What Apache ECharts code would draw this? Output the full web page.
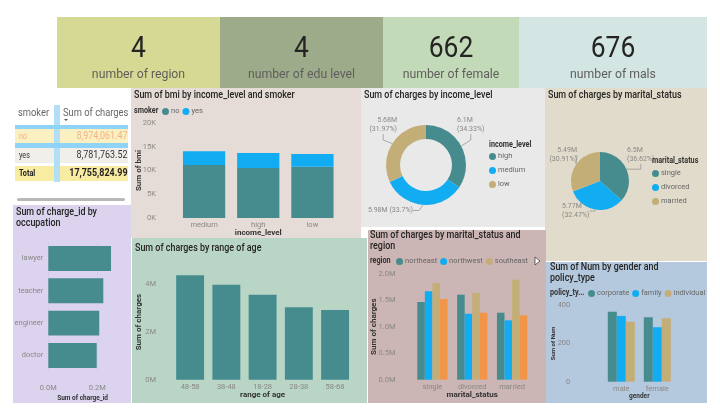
<!DOCTYPE html>
<html><head><meta charset="utf-8">
<script src="https://cdn.jsdelivr.net/npm/echarts@6/dist/echarts.min.js"></script>
<style>html,body{margin:0;padding:0;background:#fff}#c{width:720px;height:416px}</style>
</head><body><div id="c"></div>
<script>
// ---------- data ----------
var kpiValues = ['4', '4', '662', '676'];
var kpiLabels = ['number of region', 'number of edu level', 'number of female', 'number of mals'];

var smokerRows = ['no', 'yes', 'Total'];
var smokerCharges = ['8,974,061.47', '8,781,763.52', '17,755,824.99'];

var occupations = ['lawyer', 'teacher', 'engineer', 'doctor'];
var chargeIdSum = [0.256, 0.2245, 0.208, 0.1976]; // millions

var incomeLevels = ['medium', 'high', 'low'];
var bmiNo = [11160, 10530, 10800];
var bmiYes = [2880, 3150, 2670];

var incomeDonutNames = ['high', 'medium', 'low'];
var incomeDonutValues = [6.0956, 5.9837, 5.6765]; // millions

var maritalNames = ['single', 'divorced', 'married'];
var maritalValues = [6.5022, 5.7653, 5.4883]; // millions

var ageRanges = ['48-58', '38-48', '18-28', '28-38', '58-68'];
var ageCharges = [4.35, 3.96, 3.54, 3.02, 2.90]; // millions

var regionNames = ['northeast', 'northwest', 'southeast', 'southwest'];
var regionByMarital = [
  [1.466, 1.604, 1.264],
  [1.668, 1.245, 1.120],
  [1.825, 1.636, 1.887],
  [1.523, 1.264, 1.215]
];

var genders = ['male', 'female'];
var policyTypes = ['corporate', 'family', 'individual'];
var numByGender = [
  [365, 336],
  [343, 284],
  [313, 331]
];

// ---------- style ----------
var FF = "Roboto,'Noto Sans',sans-serif";
var TEAL = '#468c8e', BLUE = '#12acf2', TAN = '#c4ae78', ORANGE = '#f39549';
var LBL = '#8a8886';
function txt(x, y, s, size, color, opt) {
  opt = opt || {};
  return { type: 'text', z: 5, x: x, y: y, scaleX: opt.sx || 0.85, style: { x: 0, y: 0, text: s,
    font: (opt.weight || 'normal') + ' ' + size + 'px ' + FF, fill: color,
    textAlign: opt.align || 'left', textVerticalAlign: 'middle' } };
}
function rect(x, y, w, h, fill, z) {
  return { type: 'rect', z: z == null ? -10 : z, shape: { x: x, y: y, width: w, height: h }, style: { fill: fill } };
}

var g = [];
// panels
g.push(rect(57, 17, 163, 71, '#d6d993'));
g.push(rect(220, 17, 163, 71, '#9dab8b'));
g.push(rect(383, 17, 136, 71, '#c3dab9'));
g.push(rect(519, 17, 188, 71, '#d3e6e4'));
g.push(rect(131, 88, 230, 150, '#e5dcd8'));
g.push(rect(361, 88, 184, 139, '#e9e9e9'));
g.push(rect(545, 88, 162, 173, '#e1dbcb'));
g.push(rect(13, 205, 118, 198, '#dcd3ee'));
g.push(rect(132, 238, 235, 165, '#b8d5c5'));
g.push(rect(368, 230, 178, 173, '#cbb5b5'));
g.push(rect(546, 262, 161, 141, '#b5c9de'));

// KPI cards
var kpiCenters = [138.5, 301.5, 451, 613];
for (var i = 0; i < 4; i++) {
  g.push(txt(kpiCenters[i], 49, kpiValues[i], 30, '#252423', { align: 'center', sx: 0.88 }));
  g.push(txt(kpiCenters[i], 75, kpiLabels[i], 12.5, '#605e5c', { align: 'center', sx: 0.98 }));
}

// table
g.push(rect(54, 105, 6, 77, '#b3dff6', -5));
g.push(rect(15, 125, 113, 4, '#8fd4f6', -5));
g.push(rect(15, 129, 113, 14, '#fbf0c2', -6));
g.push(rect(15, 143, 113, 5, '#8fd4f6', -5));
g.push(rect(15, 148, 113, 15, '#f1efe9', -6));
g.push(rect(15, 166, 113, 15, '#f8eba2', -6));
g.push(txt(18, 113, 'smoker', 11, '#666'));
g.push(txt(63, 113, 'Sum of charges', 11, '#666'));
g.push({ type: 'polygon', z: 5, shape: { points: [[64, 119], [68, 119], [66, 121]] }, style: { fill: '#555' } });
var rowY = [136.5, 155.5, 173.5];
var rowCol = ['#f3b386', '#333', '#222'];
for (var r = 0; r < 3; r++) {
  var bold = r === 2 ? 'bold' : 'normal';
  g.push(txt(19, rowY[r], smokerRows[r], 8.5, rowCol[r], { weight: bold }));
  g.push(txt(127.5, rowY[r], smokerCharges[r], 10.5, rowCol[r], { align: 'right', weight: bold }));
}
g.push({ type: 'rect', z: 5, shape: { x: 17, y: 198, width: 108, height: 3, r: 1.5 }, style: { fill: '#b9b9b9' } });

// titles
var TC = '#252423', TS = 10.5, TW = '500';
g.push(txt(134, 95, 'Sum of bmi by income_level and smoker', TS, TC, { weight: TW }));
g.push(txt(364, 95, 'Sum of charges by income_level', TS, TC, { weight: TW }));
g.push(txt(548, 95, 'Sum of charges by marital_status', TS, TC, { weight: TW }));
g.push(txt(16, 212, 'Sum of charge_id by', TS, TC, { weight: TW }));
g.push(txt(16, 223, 'occupation', TS, TC, { weight: TW }));
g.push(txt(135, 248, 'Sum of charges by range of age', TS, TC, { weight: TW }));
g.push(txt(370, 235, 'Sum of charges by marital_status and', TS, TC, { weight: TW }));
g.push(txt(370, 246, 'region', TS, TC, { weight: TW }));
g.push(txt(550, 267, 'Sum of Num by gender and', TS, TC, { weight: TW }));
g.push(txt(550, 278, 'policy_type', TS, TC, { weight: TW }));
// legend titles
g.push(txt(134, 111, 'smoker', 8.5, '#333', { weight: 'bold' }));
g.push(txt(370, 261, 'region', 8.5, '#333', { weight: 'bold' }));
g.push(txt(550, 293, 'policy_ty...', 8.5, '#333', { weight: 'bold' }));
g.push(txt(489, 145, 'income_level', 8.5, '#333', { weight: 'bold' }));
g.push(txt(652, 161, 'marital_status', 8.5, '#333', { weight: 'bold' }));
g.push({ type: 'polygon', z: 5, shape: { points: [[535, 257], [540, 261], [535, 265]] }, style: { fill: '#fff', stroke: '#444', lineWidth: 0.8 } });

function legend(left, top, names, orient) {
  return { left: left, top: top, width: 300, orient: orient || 'horizontal', padding: 0, data: names,
    icon: 'circle', itemWidth: 7, itemHeight: 7, itemGap: orient === 'vertical' ? 6 : 3,
    selectedMode: false,
    textStyle: { fontFamily: FF, fontSize: 7.5, color: '#666', padding: [0, 0, 0, -3] } };
}

function axisLbl(extra) {
  var o = { color: LBL, fontFamily: FF, fontSize: 7.5 };
  for (var k in extra) o[k] = extra[k];
  return o;
}
var nameStyle = { fontFamily: FF, fontSize: 8, color: '#333', fontWeight: 'bold' };

function valAxis(gi, max, interval, fmt, margin, name, nameGap, extra, showMax) {
  var a = { type: 'value', gridIndex: gi, min: 0, max: max, interval: interval,
    axisLine: { show: false }, axisTick: { show: false }, splitLine: { show: false },
    axisLabel: axisLbl({ formatter: fmt, margin: margin, showMaxLabel: !!showMax }) };
  if (name) { a.name = name; a.nameLocation = 'middle'; a.nameGap = nameGap; a.nameTextStyle = nameStyle; a.nameMoveOverlap = false; }
  if (extra) for (var k in extra) a[k] = extra[k];
  return a;
}
function catAxis(gi, data, name, nameGap, extra) {
  var a = { type: 'category', gridIndex: gi, data: data,
    axisLine: { show: false }, axisTick: { show: false },
    axisLabel: axisLbl({ margin: 3 }) };
  if (name) { a.name = name; a.nameLocation = 'middle'; a.nameGap = nameGap; a.nameTextStyle = nameStyle; a.nameMoveOverlap = false; }
  if (extra) for (var k in extra) a[k] = extra[k];
  return a;
}

var option = {
  animation: false,
  textStyle: { fontFamily: FF },
  graphic: { elements: g },
  grid: [
    { left: 48.3, top: 242.3, width: 68.6, height: 129.3 },
    { left: 177, top: 123, width: 162.5, height: 95 },
    { left: 172, top: 264.5, width: 181.2, height: 115.2 },
    { left: 412.5, top: 273.7, width: 119.5, height: 106 },
    { left: 603.3, top: 305, width: 72, height: 76.7 }
  ],
  xAxis: [
    valAxis(0, 0.28, 0.2, function (v) { return v.toFixed(1) + 'M'; }, 13, 'Sum of charge_id', 23,
      { nameTextStyle: { fontFamily: FF, fontSize: 6.5, color: '#333', fontWeight: 'bold' },
        splitLine: { show: true, showMaxLine: false, lineStyle: { color: '#cfc6e0', type: 'dotted', width: 1 } } }),
    catAxis(1, incomeLevels, 'income_level', 11),
    catAxis(2, ageRanges, 'range of age', 11),
    catAxis(3, maritalNames, 'marital_status', 11),
    catAxis(4, genders, 'gender', 11, { nameTextStyle: { fontFamily: FF, fontSize: 6.5, color: '#333', fontWeight: 'bold' } })
  ],
  yAxis: [
    catAxis(0, occupations, null, 0, { inverse: true, axisLabel: axisLbl({ margin: 5 }) }),
    valAxis(1, 20000, 5000, function (v) { return (v / 1000) + 'K'; }, 21, 'Sum of bmi', 34, null, true),
    valAxis(2, 4.8, 2, function (v) { return v + 'M'; }, 16, 'Sum of charges', 29),
    valAxis(3, 2.0, 0.5, function (v) { return v.toFixed(1) + 'M'; }, 17, 'Sum of charges', 35, null, true),
    valAxis(4, 400, 200, function (v) { return v; }, 33, 'Sum of Num', 47,
      { nameTextStyle: { fontFamily: FF, fontSize: 6, color: '#333', fontWeight: 'bold' } }, true)
  ],
  legend: [
    legend(162, 107.5, ['no', 'yes']),
    legend(396, 257.5, ['northeast', 'northwest', 'southeast']),
    legend(588, 289.5, policyTypes),
    legend(489, 152.5, incomeDonutNames, 'vertical'),
    legend(652, 169.5, maritalNames, 'vertical')
  ],
  series: []
};

option.series.push({ type: 'bar', xAxisIndex: 0, yAxisIndex: 0, data: chargeIdSum, itemStyle: { color: TEAL }, barCategoryGap: '23%' });
option.series.push({ name: 'no', type: 'bar', stack: 'bmi', xAxisIndex: 1, yAxisIndex: 1, data: bmiNo, itemStyle: { color: TEAL }, barCategoryGap: '22%' });
option.series.push({ name: 'yes', type: 'bar', stack: 'bmi', xAxisIndex: 1, yAxisIndex: 1, data: bmiYes, itemStyle: { color: BLUE }, barCategoryGap: '22%' });
option.series.push({ type: 'bar', xAxisIndex: 2, yAxisIndex: 2, data: ageCharges, itemStyle: { color: TEAL }, barCategoryGap: '23%' });
var rc = [TEAL, BLUE, TAN, ORANGE];
for (var s = 0; s < 4; s++) {
  option.series.push({ name: regionNames[s], type: 'bar', xAxisIndex: 3, yAxisIndex: 3, data: regionByMarital[s],
    itemStyle: { color: rc[s] }, barGap: '0%', barCategoryGap: '24%' });
}
for (var p = 0; p < 3; p++) {
  option.series.push({ name: policyTypes[p], type: 'bar', xAxisIndex: 4, yAxisIndex: 4, data: numByGender[p],
    itemStyle: { color: rc[p] }, barGap: '0%', barCategoryGap: '25%' });
}

function fmtM(v) { return parseFloat(v.toFixed(2)) + 'M'; }
function pieData(names, vals) { return names.map(function (n, i) { return { name: n, value: vals[i] }; }); }
var pieLabel = { color: LBL, fontFamily: FF, fontSize: 7, lineHeight: 9 };

var donutPos = [{ x: 457, y: 116, align: 'left' }, { x: 413, y: 206, align: 'right' }, { x: 397, y: 116, align: 'right' }];
option.series.push({ type: 'pie', center: [426, 165], radius: [26, 40], startAngle: 90, clockwise: true,
  data: pieData(incomeDonutNames, incomeDonutValues), color: [TEAL, BLUE, TAN],
  label: Object.assign({ formatter: function (p) { return fmtM(p.value) + (p.dataIndex === 1 ? ' ' : '\n') + '(' + p.percent + '%)'; } }, pieLabel),
  labelLine: { show: true, length: 6, length2: 6, lineStyle: { color: '#999', width: 0.8 } },
  labelLayout: function (p) { var d = donutPos[p.dataIndex]; return { x: d.x, y: d.y, align: d.align, verticalAlign: 'top' }; }
});
var piePos = [{ x: 627, y: 146, align: 'left' }, { x: 562, y: 202, align: 'left' }, { x: 577, y: 146, align: 'right' }];
option.series.push({ type: 'pie', center: [600, 181], radius: [0, 29], startAngle: 90, clockwise: true,
  data: pieData(maritalNames, maritalValues), color: [TEAL, BLUE, TAN],
  label: Object.assign({ formatter: function (p) { return fmtM(p.value) + '\n(' + p.percent + '%)'; } }, pieLabel),
  labelLine: { show: true, length: 6, length2: 6, lineStyle: { color: '#999', width: 0.8 } },
  labelLayout: function (p) { var d = piePos[p.dataIndex]; return { x: d.x, y: d.y, align: d.align, verticalAlign: 'top' }; }
});

var chart = echarts.init(document.getElementById('c'), null, { renderer: 'canvas' });
chart.setOption(option);
</script></body></html>
